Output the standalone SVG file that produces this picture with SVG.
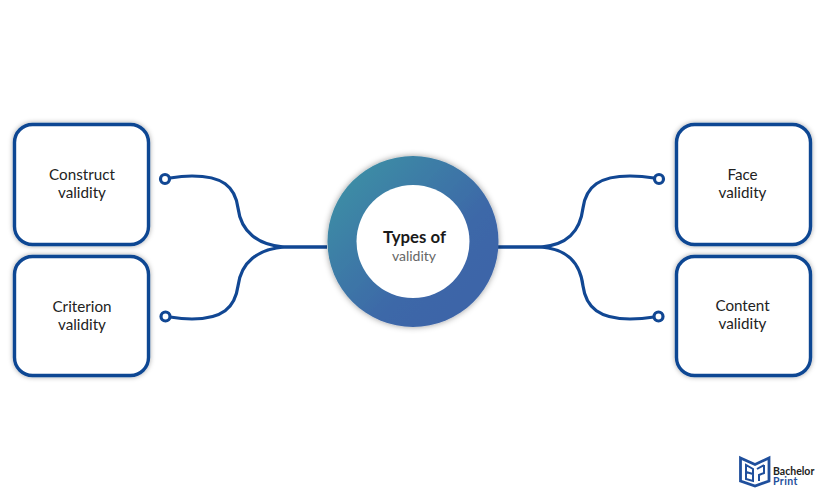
<svg xmlns="http://www.w3.org/2000/svg" width="825" height="500" viewBox="0 0 825 500">
<style>
.box{fill:#fff;stroke:#114793;stroke-width:3.4;filter:url(#sh)}
.t{font-family:Lato,"Liberation Sans",sans-serif;font-size:15.2px;fill:#222;text-anchor:middle}
.c{fill:none;stroke:#114793;stroke-width:3.2}
.d{fill:#fff;stroke:#114793;stroke-width:3.2}
.l{fill:none;stroke:#1f4f9c}
.lt{font-family:Lato,"Liberation Sans",sans-serif;font-size:10.5px;font-weight:700}
</style>
<defs>
<filter id="sh" x="-20%" y="-20%" width="140%" height="140%"><feDropShadow dx="0" dy="0" stdDeviation="2.5" flood-color="#000" flood-opacity=".35"/></filter>
<filter id="sh2" x="-20%" y="-20%" width="140%" height="140%"><feDropShadow dx="0" dy="0" stdDeviation="3" flood-color="#000" flood-opacity=".4"/></filter>
<linearGradient id="g" x1="0.12" y1="0.15" x2="0.8" y2="0.8"><stop offset="0" stop-color="#3c8ca5"/><stop offset=".75" stop-color="#3e67a8"/><stop offset="1" stop-color="#3e65a8"/></linearGradient>
</defs>
<rect width="825" height="500" fill="#fff"/>
<g id="connectors">
<path class="c" d="M327 247H284C258 245 241 232 238 208C235 186 222 176 192 176C182 176 176 177 170 178"/>
<path class="c" d="M327 247H284C258 249 241 262 238 286C235 308 222 319 192 319C182 319 176 318 170 317"/>
<path class="c" d="M498 247H541C567 245 580 232 583 208C586 186 600 176 630 176C640 176 648 177 654 178"/>
<path class="c" d="M498 247H541C567 249 580 262 583 286C586 308 600 319 630 319C640 319 648 318 654 317"/>
<circle class="d" cx="165" cy="179" r="4.500"/>
<circle class="d" cx="165.500" cy="316.500" r="4.500"/>
<circle class="d" cx="659" cy="179" r="4.500"/>
<circle class="d" cx="658.500" cy="316.500" r="4.500"/>
</g>
<g id="construct"><rect class="box" x="14.500" y="124.500" width="134" height="120" rx="18"/><text class="t" x="82" y="180">Construct</text><text class="t" x="82" y="198">validity</text></g>
<g id="criterion"><rect class="box" x="14.500" y="256.500" width="134" height="119" rx="18"/><text class="t" x="82" y="312">Criterion</text><text class="t" x="82" y="330">validity</text></g>
<g id="face"><rect class="box" x="676.500" y="124.500" width="134" height="120" rx="18"/><text class="t" x="742.500" y="180">Face</text><text class="t" x="742.500" y="198">validity</text></g>
<g id="content"><rect class="box" x="676.500" y="256.500" width="134" height="119" rx="18"/><text class="t" x="742.500" y="311">Content</text><text class="t" x="742.500" y="329">validity</text></g>
<g id="center">
<circle cx="413" cy="241.500" r="85.500" fill="url(#g)" filter="url(#sh2)"/>
<circle cx="413" cy="241.500" r="56.500" fill="#fff"/>
<text x="414.500" y="243" text-anchor="middle" font-family="Lato,'Liberation Sans',sans-serif" font-size="16.800" font-weight="700" fill="#1a1a1a">Types of</text>
<text x="414" y="261" text-anchor="middle" font-family="Lato,'Liberation Sans',sans-serif" font-size="14" fill="#666">validity</text>
</g>
<g id="logo">
<path class="l" stroke-width="2.800" d="M740.500 458L755 464.500L769 458V481L755 486L740.500 481Z"/>
<path class="l" stroke-width="2" d="M746 465V479L753 481V469ZM746 472L753 474M764 465V473L759 475V481M757 469L764 465"/>
<text class="lt" x="773" y="474.500" fill="#222">Bachelor</text>
<text class="lt" x="773" y="484.500" fill="#1f4f9c" letter-spacing=".4">Print</text>
</g>
</svg>
